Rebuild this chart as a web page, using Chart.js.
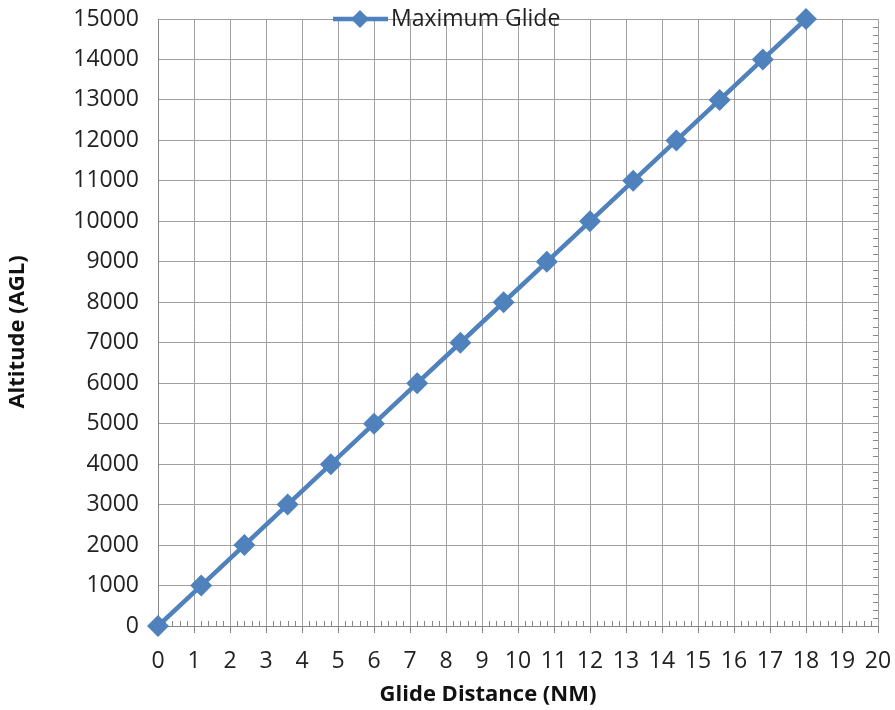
<!DOCTYPE html>
<html>
<head>
<meta charset="utf-8">
<script src="https://cdn.jsdelivr.net/npm/chart.js@4.4.1/dist/chart.umd.min.js"></script>
<style>
  html, body { margin: 0; padding: 0; background: #fff; }
  #wrap { width: 895px; height: 710px; }
</style>
</head>
<body>
<div id="wrap"><canvas id="chartGlide"></canvas></div>
<script>
// glide distance (NM) vs altitude AGL (ft)
const glideDistance = [0, 1.2, 2.4, 3.6, 4.8, 6, 7.2, 8.4, 9.6, 10.8, 12, 13.2, 14.4, 15.6, 16.8, 18];
const altitudeAGL = [0, 1000, 2000, 3000, 4000, 5000, 6000, 7000, 8000, 9000, 10000, 11000, 12000, 13000, 14000, 15000];
const seriesName = "Maximum Glide";
const xTitle = "Glide Distance (NM)";
const yTitle = "Altitude (AGL)";

const blue = "#4f81bd";
const gridGray = "#a0a0a0";
const axisGray = "#868686";
const fontFam = "'Open Sans', 'Liberation Sans', sans-serif";

// minor ticks (x bottom, y right), axis titles, legend straddling the top edge
const extras = {
  id: "extras",
  afterDraw(chart) {
    const { ctx, chartArea: a, scales } = chart;
    ctx.save();
    ctx.strokeStyle = axisGray;
    ctx.lineWidth = 1;
    ctx.beginPath();
    for (let i = 0; i < 100; i++) {
      if (i % 5 === 0) continue;
      const px = Math.round(scales.x.getPixelForValue(i / 5)) + 0.5;
      ctx.moveTo(px, a.bottom - 5);
      ctx.lineTo(px, a.bottom);
    }
    for (let v = 0; v < 15000; v += 200) {
      if (v % 1000 === 0) continue;
      const py = Math.round(scales.y.getPixelForValue(v)) + 0.5;
      ctx.moveTo(a.right - 5, py);
      ctx.lineTo(a.right, py);
    }
    ctx.stroke();

    // axis titles
    ctx.fillStyle = "#111";
    ctx.font = "bold 22px " + fontFam;
    ctx.textAlign = "center";
    ctx.textBaseline = "middle";
    ctx.fillText(xTitle, 488, 695);
    ctx.save();
    ctx.translate(18, 332);
    ctx.rotate(-Math.PI / 2);
    ctx.fillText(yTitle, 0, 0);
    ctx.restore();

    // legend
    const ly = a.top;
    const lx = 333;
    ctx.strokeStyle = blue;
    ctx.lineWidth = 4.5;
    ctx.beginPath();
    ctx.moveTo(lx, ly);
    ctx.lineTo(lx + 55, ly);
    ctx.stroke();
    ctx.fillStyle = blue;
    ctx.beginPath();
    ctx.moveTo(lx + 27, ly - 9);
    ctx.lineTo(lx + 36, ly);
    ctx.lineTo(lx + 27, ly + 9);
    ctx.lineTo(lx + 18, ly);
    ctx.closePath();
    ctx.fill();
    ctx.fillStyle = "#222";
    ctx.font = "23px " + fontFam;
    ctx.textAlign = "left";
    ctx.fillText(seriesName, lx + 58, ly);
    ctx.restore();
  }
};

new Chart(document.getElementById("chartGlide"), {
  type: "line",
  data: {
    datasets: [{
      label: seriesName,
      data: glideDistance.map((d, i) => ({ x: d, y: altitudeAGL[i] })),
      borderColor: blue,
      backgroundColor: blue,
      borderWidth: 4.5,
      pointStyle: "rectRot",
      pointRadius: 11,
      pointHoverRadius: 11,
      pointBackgroundColor: blue,
      pointBorderColor: blue,
      pointBorderWidth: 0,
      tension: 0,
      clip: false
    }]
  },
  options: {
    responsive: true,
    maintainAspectRatio: false,
    animation: false,
    layout: { padding: { left: 0, right: 17, top: 19, bottom: 0 } },
    plugins: { legend: { display: false }, tooltip: { enabled: false } },
    scales: {
      x: {
        type: "linear",
        min: 0, max: 20,
        afterFit: (s) => { s.height = 84; s.paddingLeft = 0; s.paddingRight = 0; },
        ticks: { stepSize: 1, color: "#222", padding: 15, font: { family: fontFam, size: 23 },
                 callback: (v) => String(v) },
        grid: { color: gridGray, tickLength: 7, tickColor: axisGray },
        border: { color: axisGray },
        title: { display: false }
      },
      y: {
        min: 0, max: 15000,
        afterFit: (s) => { s.width = 158; s.paddingTop = 0; s.paddingBottom = 0; },
        ticks: { stepSize: 1000, color: "#222", padding: 19, font: { family: fontFam, size: 23 },
                 callback: (v) => String(v) },
        grid: { color: gridGray, tickLength: 0 },
        border: { color: axisGray },
        title: { display: false }
      }
    }
  },
  plugins: [extras]
});
</script>
</body>
</html>
